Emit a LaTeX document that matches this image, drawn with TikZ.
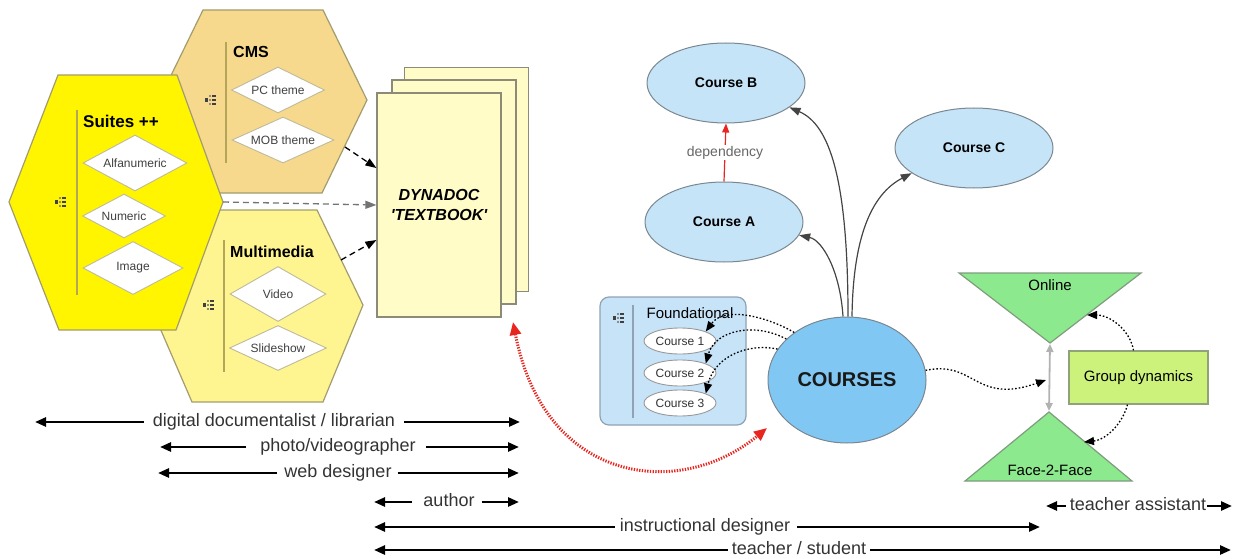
\documentclass[tikz,border=0pt]{standalone}
\usepackage{fontspec}
\setmainfont{Liberation Sans}
\usetikzlibrary{arrows.meta,shapes.geometric}

\definecolor{suitefill}{HTML}{FFF500}
\definecolor{cmsfill}{HTML}{F6D98C}
\definecolor{mmfill}{HTML}{FEF590}
\definecolor{hexedge}{HTML}{A39C6E}
\definecolor{hexrule}{HTML}{B3A55A}
\definecolor{pagefill}{HTML}{FFFCC8}
\definecolor{pageedge}{HTML}{8C8B78}
\definecolor{coursefill}{HTML}{C6E4F8}
\definecolor{coursesfill}{HTML}{80C7F4}
\definecolor{ovaledge}{HTML}{7A8790}
\definecolor{fndfill}{HTML}{C7E3F8}
\definecolor{fndedge}{HTML}{8FA3B3}
\definecolor{modefill}{HTML}{8DE98D}
\definecolor{modeedge}{HTML}{7E9C7E}
\definecolor{groupfill}{HTML}{CCF27C}
\definecolor{groupedge}{HTML}{8FA27A}
\definecolor{linkgrey}{HTML}{444444}
\definecolor{depred}{HTML}{E8251F}
\definecolor{labelgrey}{HTML}{333333}

\begin{document}
\begin{tikzpicture}[x=1pt,y=-1pt,
  hexagon/.style={draw=hexedge, line width=1.2pt},
  hexrule/.style={draw=hexrule, line width=1.2pt},
  hextitle/.style={font=\bfseries\fontsize{16}{18}\selectfont, anchor=west, inner sep=0pt},
  kite/.style={diamond, draw=hexedge!70, fill=white, inner sep=0pt, line width=0.9pt,
    font=\fontsize{12}{14}\selectfont, text=black!75},
  page/.style={draw=pageedge, fill=pagefill, line width=1.2pt,
    minimum width=124pt, minimum height=224pt, inner sep=0pt},
  oval/.style={ellipse, draw=ovaledge, fill=coursefill, line width=1pt,
    minimum width=158pt, minimum height=80pt, inner sep=0pt,
    font=\bfseries\fontsize{14}{16}\selectfont},
  pebble/.style={ellipse, draw=black!40, fill=white, line width=0.9pt,
    minimum width=72pt, minimum height=26pt, inner sep=0pt,
    font=\fontsize{12}{14}\selectfont, text=black!80},
  feed/.style={dash pattern=on 6pt off 4pt, line width=1.3pt,
    -{Triangle[length=11pt,width=8pt]}},
  spoke/.style={draw=linkgrey, line width=1.2pt,
    -{Triangle[length=11pt,width=8pt,fill=linkgrey]}},
  dotlink/.style={dash pattern=on 1.6pt off 2pt, line width=1.3pt,
    -{Triangle[length=10pt,width=8pt]}},
  role/.style={font=\fontsize{18}{20}\selectfont, text=labelgrey, inner sep=0pt,
    text height=13pt, text depth=4pt},
  rolespan/.style={line width=2.5pt, -{Triangle[length=11pt,width=9pt]}},
  listicon/.pic={
    \fill[black!75] (-5.5,-1.6) rectangle (-2.5,1.6);
    \foreach \yy in {-4,0,4} {
      \fill[black!45] (-0.6,\yy-0.7) rectangle (0.6,\yy+0.7);
      \fill[black!75] (1.5,\yy-0.9) rectangle (5.5,\yy+0.9);
    }
  }
]
\useasboundingbox (0,0) rectangle (1236,559);

% ---------- content hexagons ----------
\draw[hexagon, fill=cmsfill] (159,100) -- (203,10) -- (323,10) -- (367,100) -- (322,193) -- (203,193) -- cycle;
\draw[hexagon, fill=mmfill] (150,305) -- (192,210) -- (317,210) -- (363,305) -- (323,402) -- (192,402) -- cycle;
\draw[hexagon, fill=suitefill] (9,202) -- (58,75) -- (177,75) -- (223,202) -- (176,330) -- (59,330) -- cycle;
\coordinate (suiteport) at (223,202);
\coordinate (cmsport) at (345,147);
\coordinate (mmport) at (341,260);

% CMS
\draw[hexrule] (226,42) -- (226,163);
\pic at (210,100) {listicon};
\node[hextitle] (cmstitle) at (233,52) {CMS};
\node[kite, minimum width=93pt, minimum height=46pt, aspect=2] (pc) at (278,90) {PC theme};
\node[kite, minimum width=102pt, minimum height=46pt, aspect=2.2] (mob) at (283,140) {MOB theme};

% Suites
\draw[hexrule] (77,110) -- (77,295);
\pic at (60,202) {listicon};
\node[hextitle, font=\bfseries\fontsize{17}{19}\selectfont] (suitetitle) at (83,121) {Suites ++};
\node[kite, minimum width=104pt, minimum height=56pt, aspect=1.86] (alfa) at (135,163) {Alfanumeric};
\node[kite, minimum width=83pt, minimum height=44pt, aspect=1.9] (num) at (124,216) {Numeric};
\node[kite, minimum width=100pt, minimum height=53pt, aspect=1.9] (img) at (133,268) {Image};

% Multimedia
\draw[hexrule] (224,240) -- (224,372);
\pic at (208,305) {listicon};
\node[hextitle] (mmtitle) at (230,252) {Multimedia};
\node[kite, minimum width=96pt, minimum height=55pt, aspect=1.75] (video) at (278,294) {Video};
\node[kite, minimum width=97pt, minimum height=45pt, aspect=2.15] (slides) at (278,348) {Slideshow};

% ---------- textbook stack ----------
\node[page] (page3) at (466.5,179.5) {};
\node[page] (page2) at (454,192) {};
\node[page, align=center, font=\bfseries\itshape\fontsize{16}{20}\selectfont] (book) at (439,205)
  {DYNADOC\\\textquotesingle TEXTBOOK\textquotesingle};
\coordinate (bookport) at (513,322);

\draw[feed] (cmsport) -- ([yshift=37pt]book.west);
\draw[feed, draw=black!55, -{Triangle[length=11pt,width=8pt,fill=black!55]}] (suiteport) -- (book.west);
\draw[feed] (mmport) -- ([yshift=-35pt]book.west);

% ---------- courses ----------
\node[oval] (B) at (726,83) {Course B};
\node[oval] (C) at (974,148) {Course C};
\node[oval] (A) at (724,222) {Course A};
\draw[draw=depred, line width=1.2pt, -{Triangle[length=9pt,width=7pt]}] (A.north) --
  node[fill=white, inner sep=1pt, text=black!60, font=\fontsize{14}{16}\selectfont] (deplabel) {dependency} (B.south);

\node[ellipse, draw=ovaledge, fill=coursesfill, line width=1pt, minimum width=158pt,
  minimum height=126pt, inner sep=0pt, font=\bfseries\fontsize{20}{22}\selectfont, text=black!90]
  (courses) at (847,380) {COURSES};

\draw[spoke] ([xshift=-4pt]courses.north) .. controls (840,270) and (822,240) .. (A.-10);
\draw[spoke] ([xshift=1pt]courses.north) .. controls (848,180) and (830,125) .. (B.-21);
\draw[spoke] ([xshift=5pt]courses.north) .. controls (853,240) and (870,195) .. (C.-158);

% ---------- foundational courses ----------
\node[draw=fndedge, fill=fndfill, rounded corners=9pt, line width=1.2pt,
  minimum width=146pt, minimum height=128pt] (fnd) at (673,361) {};
\draw[draw=fndedge, line width=1.2pt] (633,305) -- (633,418);
\pic at (618,318) {listicon};
\node[font=\fontsize{15}{17}\selectfont, inner sep=0pt] (fndtitle) at (690,313) {Foundational};
\node[pebble] (c1) at (680,341) {Course 1};
\node[pebble] (c2) at (680,373) {Course 2};
\node[pebble] (c3) at (680,403) {Course 3};

\draw[dotlink] (courses.138) .. controls (770,318) and (725,305) .. (c1.north east);
\draw[dotlink] (courses.146) .. controls (755,322) and (715,330) .. (c2.north east);
\draw[dotlink] (courses.156) .. controls (750,343) and (715,355) .. (c3.north east);

% ---------- delivery modes ----------
\draw[draw=modeedge, fill=modefill, line width=1.2pt] (959,273) -- (1141,273) -- (1050,343) -- cycle;
\draw[draw=modeedge, fill=modefill, line width=1.2pt] (1049,412) -- (1132,481) -- (965,481) -- cycle;
\coordinate (onlinetip) at (1050,344);
\coordinate (f2ftip) at (1049,411);
\coordinate (onlinein) at (1087,315);
\coordinate (f2fin) at (1084,442);
\coordinate (modeport) at (1046,380);
\node[font=\fontsize{15}{17}\selectfont, inner sep=0pt] (online) at (1050,285) {Online};
\node[font=\fontsize{15}{17}\selectfont, inner sep=0pt] (f2f) at (1050,470) {Face-2-Face};
\draw[draw=black!30, line width=1.8pt, {Triangle[length=8pt,width=7pt]}-{Triangle[length=8pt,width=7pt]}]
  (onlinetip) -- (f2ftip);

\node[draw=groupedge, fill=groupfill, line width=1.2pt, minimum width=139pt, minimum height=53pt,
  inner sep=0pt, font=\fontsize{15}{17}\selectfont] (grp) at (1138.5,377.5) {Group dynamics};
\draw[dotlink] ([xshift=-5pt]grp.north) .. controls (1130,330) and (1110,315) .. (onlinein);
\draw[dotlink] ([xshift=-11pt]grp.south) .. controls (1122,425) and (1105,440) .. (f2fin);
\draw[dotlink] (courses.7) .. controls (975,360) and (975,405) .. (modeport);

% ---------- textbook <-> courses ----------
\coordinate (redend) at (767,428);
\draw[draw=depred, line width=3pt, dash pattern=on 1.3pt off 1.4pt,
  {Triangle[length=13pt,width=11pt,fill=depred]}-{Triangle[length=13pt,width=11pt,fill=depred]}]
  (bookport) .. controls (545,485) and (680,500) .. (redend);

% ---------- roles ----------
\node[role] (r1) at (274,422) {digital documentalist / librarian};
\coordinate (r1a) at (35,422); \coordinate (r1b) at (520,422);
\draw[rolespan] ([xshift=-9pt]r1.west) -- (r1a);
\draw[rolespan] ([xshift=9pt]r1.east) -- (r1b);

\node[role] (r2) at (338,447) {photo/videographer};
\coordinate (r2a) at (160,447); \coordinate (r2b) at (519,447);
\draw[rolespan] ([xshift=-14pt]r2.west) -- (r2a);
\draw[rolespan] ([xshift=10pt]r2.east) -- (r2b);

\node[role] (r3) at (338,473) {web designer};
\coordinate (r3a) at (158,473); \coordinate (r3b) at (519,473);
\draw[rolespan] ([xshift=-7pt]r3.west) -- (r3a);
\draw[rolespan] ([xshift=6pt]r3.east) -- (r3b);

\node[role] (r4) at (449,502) {author};
\coordinate (r4a) at (374,502); \coordinate (r4b) at (519,502);
\draw[rolespan] ([xshift=-11pt]r4.west) -- (r4a);
\draw[rolespan] ([xshift=7pt]r4.east) -- (r4b);

\node[role] (r5) at (705,527) {instructional designer};
\coordinate (r5a) at (374,527); \coordinate (r5b) at (1040,527);
\draw[rolespan] ([xshift=-5pt]r5.west) -- (r5a);
\draw[rolespan] ([xshift=7pt]r5.east) -- (r5b);

\node[role] (r6) at (799,550) {teacher / student};
\coordinate (r6a) at (374,550); \coordinate (r6b) at (1231,550);
\draw[rolespan] ([xshift=-4pt]r6.west) -- (r6a);
\draw[rolespan] ([xshift=4pt]r6.east) -- (r6b);

\node[role] (r7) at (1138,506) {teacher assistant};
\coordinate (r7a) at (1046,506); \coordinate (r7b) at (1232,506);
\draw[rolespan] ([xshift=-4pt]r7.west) -- (r7a);
\draw[rolespan] ([xshift=1pt]r7.east) -- (r7b);
\end{tikzpicture}
\end{document}
